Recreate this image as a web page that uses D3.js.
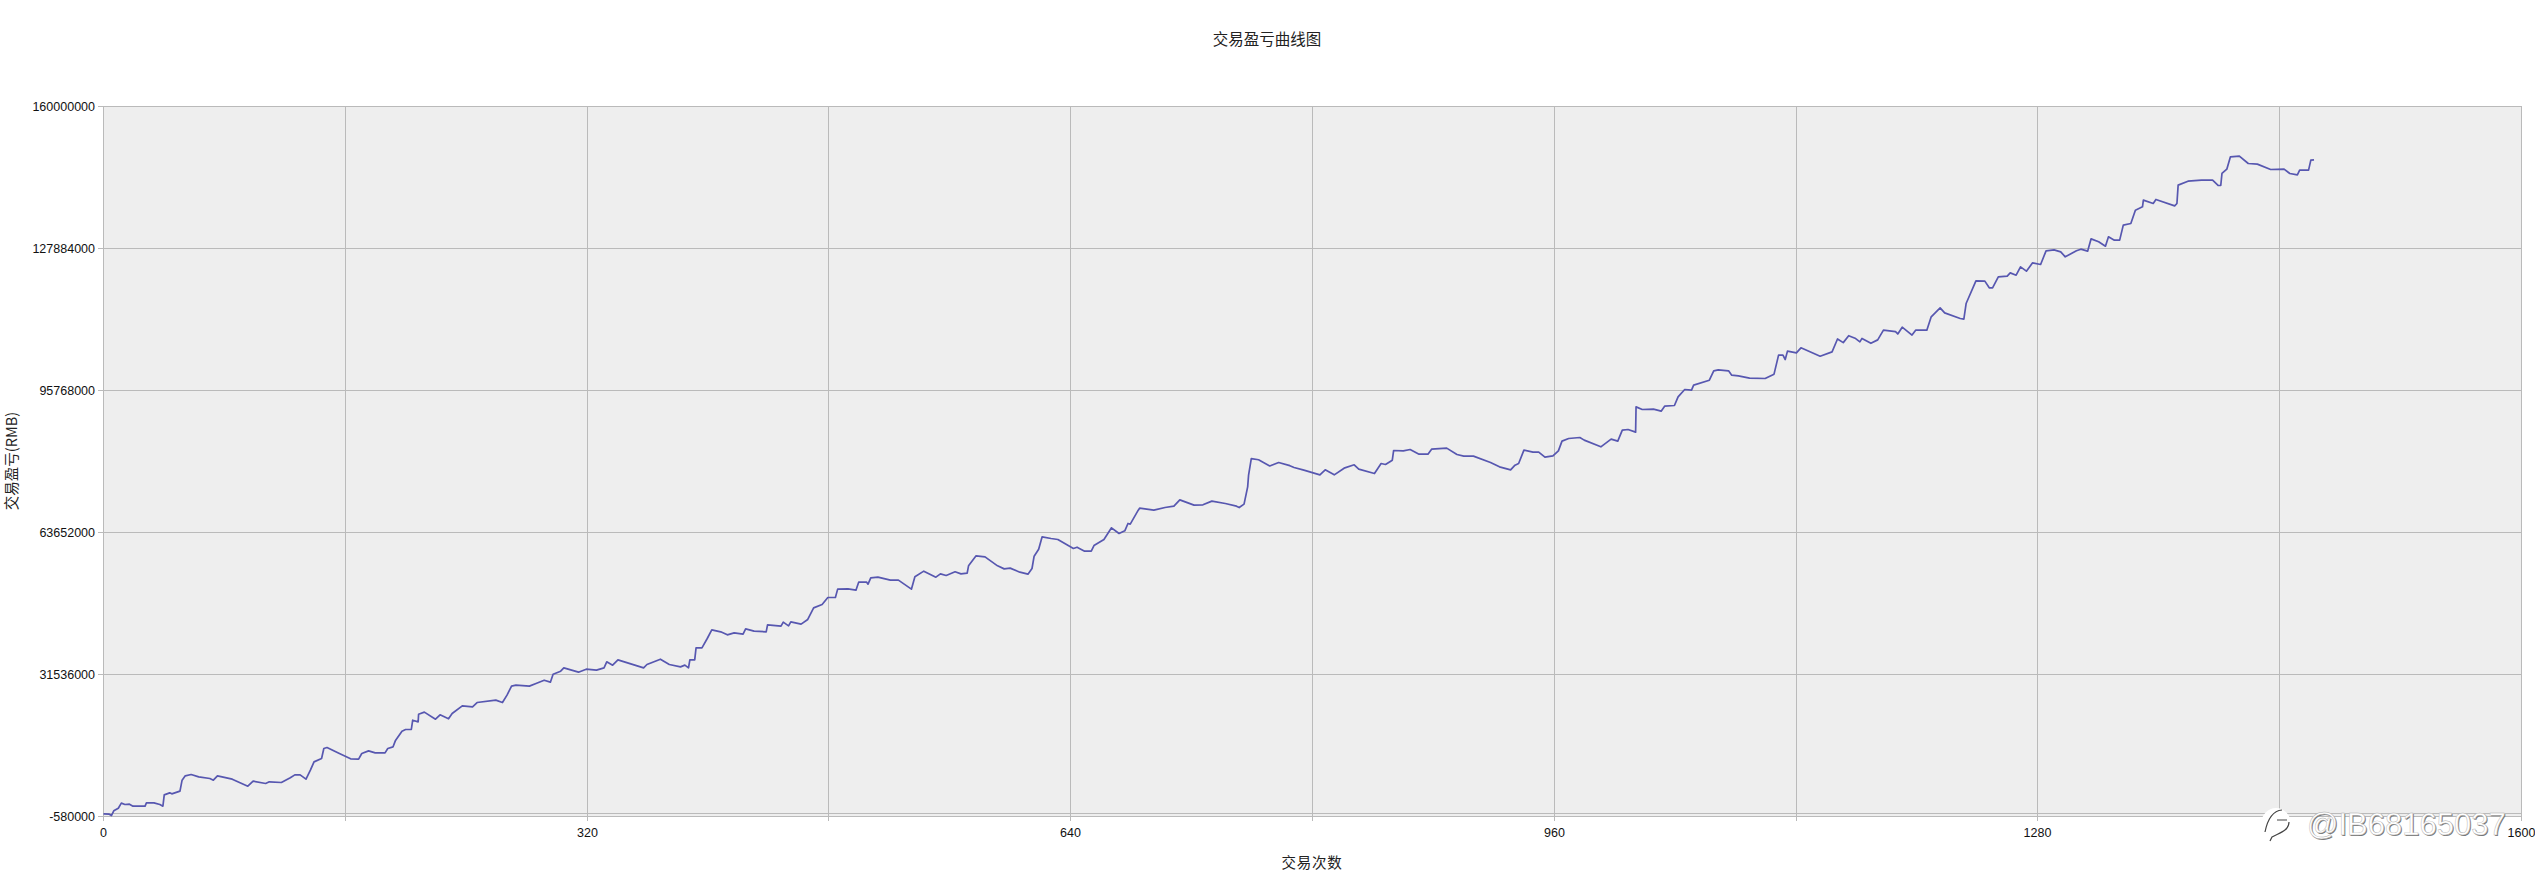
<!DOCTYPE html>
<html>
<head>
<meta charset="utf-8">
<script src="https://d3js.org/d3.v7.min.js"></script>
<style>
    body { margin: 0; background: #fff; }
    svg { display: block; }
    .tick text { font-family: "Liberation Sans", Arial, sans-serif; font-size: 12.5px; fill: #111; }
    .cap { font-family: "Noto Sans CJK SC", sans-serif; font-size: 14.5px; fill: #222; text-anchor: middle; }
</style>
</head>
<body>
<div class="chart"></div>
<script>
// pnl in million RMB
const trades = [0,3.8,5.3,6.8,9.8,11.8,14.2,17.2,19.5,27.5,28.4,33.4,37.3,39.3,40.2,43.8,45.2,50.6,52,54.1,58,63,70.4,72.7,75.4,85.2,95.5,99,107.3,109.7,117.7,123.6,126.6,130.1,134,136.9,139.3,144.3,145.8,147.9,156.1,163.5,168.8,170.9,175.4,179.8,186.3,188.1,191.6,193.1,197.5,199.9,203.7,204.6,208.2,208.5,212.3,219.7,222.7,228.3,230.7,237.4,244.2,247.2,259.6,264,267,270,272.9,281.8,286.2,291.6,295.7,297.5,302.5,304.6,314.3,319.4,326.2,331.2,333,336.9,340.4,357.4,359.6,368.5,374.4,381.8,384.7,387.1,388,391.2,392.1,396,399.5,402.5,408.4,412.8,417.3,423.2,424.9,430.5,438.5,439.4,448.3,449.8,453.3,454.8,461.6,466,469.9,475.5,479.3,484.3,485.8,492.6,497.9,499.7,505,505.9,507.7,512.4,520.7,526,534.6,536.9,542.8,550.8,553.8,557.6,563.5,567.4,571.5,572.4,577.4,583.3,591.6,596,599.9,606.4,611.7,614.4,615.8,618.8,621.1,627,631.5,641.8,644.2,649.2,653.6,655.4,662,667,672,675.8,677.9,679.4,684.7,685.6,695,702.4,708.3,712.2,721.6,727.5,733.4,742.3,749.7,751.5,754.7,757.1,757.7,759.5,764.3,771.7,777.6,785,787.8,794.3,804.9,808.4,814.4,820.9,827.6,830.6,841,845.4,848.3,852.8,853.7,860.1,864.6,870.5,876.4,878.8,888.8,895.6,900.1,906.5,917.8,923.7,931.1,934,936.4,939.9,945.9,949.7,953.8,959.1,962.7,965.1,969.5,976.9,979.8,990.8,997.6,1002,1005,1008.8,1013.8,1014.1,1018.2,1025.6,1030.7,1033,1039.5,1041.9,1046.3,1050.8,1052.2,1062.6,1065.5,1068.5,1075.3,1077.4,1081.8,1089.2,1099.5,1105.4,1108.4,1111.3,1112.8,1114.3,1120.2,1123.2,1135.9,1143.8,1147.4,1151.2,1154.8,1159,1162.2,1163.6,1169.5,1174,1177.8,1185.8,1187.3,1190.2,1196.7,1199.1,1206.5,1209.4,1215.3,1218.3,1228.6,1231,1232.5,1239,1244.9,1247.8,1250,1253.8,1259.7,1261.7,1265.6,1268.5,1272.4,1276.5,1281.8,1285.4,1290.7,1295.1,1298.1,1305.5,1308.4,1312.9,1315.2,1320.2,1324.7,1326.7,1330.6,1334.1,1336.5,1341.5,1344.5,1349.2,1349.8,1356.3,1358.1,1370.5,1372,1372.8,1379.3,1388.2,1395.6,1399.4,1401,1401.8,1405,1407.4,1413.3,1419.2,1425.2,1434,1442.9,1446.7,1451.7,1453.2,1459.1,1460.6,1462.7];
const pnlMillions = [0.02,-0.05,-0.35,0.7,1.3,2.44,2.13,2.21,1.76,1.76,2.51,2.51,2.13,1.76,4.32,4.77,4.55,5.15,7.64,8.62,8.92,8.39,8.01,7.64,8.62,7.86,6.28,7.41,6.88,7.26,7.11,8.17,8.84,8.84,7.86,9.9,11.78,12.54,14.8,15.03,13.67,12.46,12.39,13.67,14.27,13.82,13.82,14.8,15.18,16.53,18.72,19.1,19.1,21.2,20.83,22.56,23.02,21.43,22.41,21.51,22.72,24.45,24.22,25.2,25.73,25.2,26.86,28.9,29.12,28.9,29.5,30.25,29.8,31.6,32.29,33.04,32.06,32.74,32.52,33.04,34.4,33.65,34.85,33.04,33.8,35,33.8,33.27,33.65,33.04,34.85,34.85,37.57,37.57,39.68,41.64,41.19,40.51,40.96,40.66,41.86,41.34,41.19,42.77,42.47,43.37,42.54,43.45,42.92,43.98,46.61,47.37,48.95,48.95,50.84,50.91,50.61,52.42,52.42,51.97,53.4,53.55,52.87,52.87,50.84,53.63,54.91,53.55,54.3,53.93,54.76,54.3,54.45,56.11,58.38,58.15,56.11,55.43,55.59,54.68,54.23,55.51,58.3,59.88,62.67,62.3,62.07,60.03,60.33,59.43,59.43,60.71,62.07,64.71,63.43,64.03,65.69,65.54,68.7,69.15,68.7,69.31,69.61,71.04,69.84,69.91,70.74,70.21,69.61,69.3,70.06,73.98,76.62,80.35,80.1,78.7,79.48,78.77,78.35,77.75,76.69,77.82,76.69,78.2,78.96,77.98,76.99,79.26,79.03,80.01,82.2,82.12,82.42,81.37,81.37,82.5,82.73,81.29,80.92,80.92,79.48,78.5,77.83,78.88,79.26,82.27,81.82,81.82,80.69,80.99,82.12,84.31,84.91,85.14,84.54,83.03,84.76,84.31,86.8,86.95,86.35,92.07,91.47,91.55,91.1,92.22,92.38,94.34,95.99,95.84,96.97,98.1,100.22,100.44,100.22,99.24,99.09,98.56,98.48,99.46,103.76,103.76,102.78,104.67,104.29,105.42,103.53,104.51,107.42,106.6,108.17,107.6,106.77,107.55,106.45,107.22,109.41,109.1,108.55,110.09,108.3,109.41,109.41,112.43,114.46,113.33,112.05,111.9,115.44,120.57,120.5,118.99,118.99,121.48,121.63,122.38,121.85,123.74,122.76,124.64,124.27,127.36,127.58,127.13,126,127.36,127.73,127.28,130.07,129.4,128.41,130.52,129.77,129.77,133.16,133.54,136.55,137.31,138.82,138.06,138.97,137.53,138.06,142.21,143.11,143.34,143.34,142.13,142.13,144.85,145.83,148.62,148.77,147.11,146.96,145.75,145.83,144.85,144.55,145.6,145.6,147.87,147.94];
const xTicks = [0,160,320,480,640,800,960,1120,1280,1440,1600];
const xLabelled = [0,320,640,960,1280,1600];
const yTicks = [-580000,31536000,63652000,95768000,127884000,160000000];
const zeroLine = [0];
const titleText = "交易盈亏曲线图";
const xTitle = "交易次数";
const yTitle = "交易盈亏(RMB)";
const watermark = "@IB68165037";

function init() {
    const w = 2535;
    const h = 873;
    const left = 103, right = 2521, top = 106, bottom = 816;
    const gridColor = "#bababa";

    const svg = d3.select(".chart").append("svg")
        .attr("width", w)
        .attr("height", h);

    const x = d3.scaleLinear().domain([0, 1600]).range([left, right]);
    const y = d3.scaleLinear().domain([-580000, 160000000]).range([bottom, top]);
    // round tick positions so the grid stays sharp
    const xTickScale = x.copy().interpolate(d3.interpolateRound);
    const yTickScale = y.copy().interpolate(d3.interpolateRound);

    svg.append("rect")
        .attr("x", left + 0.5)
        .attr("y", top + 0.5)
        .attr("width", right - left)
        .attr("height", bottom - top)
        .attr("fill", "#eeeeee")
        .attr("stroke", gridColor);

    const xAxisGrid = d3.axisBottom(xTickScale)
        .tickValues(xTicks)
        .tickSize(-(bottom - top))
        .tickFormat("");
    const gx = svg.append("g")
        .attr("transform", `translate(0,${bottom})`)
        .call(xAxisGrid);
    gx.select(".domain").remove();
    gx.selectAll("line").attr("stroke", gridColor);

    const xAxis = d3.axisBottom(xTickScale)
        .tickValues(xTicks)
        .tickSize(5)
        .tickPadding(7)
        .tickFormat(d => xLabelled.includes(d) ? d : "");
    const gx2 = svg.append("g")
        .attr("transform", `translate(0,${bottom})`)
        .call(xAxis);
    gx2.select(".domain").remove();
    gx2.selectAll("line").attr("stroke", gridColor);

    const yAxisGrid = d3.axisLeft(yTickScale)
        .tickValues(yTicks)
        .tickSize(-(right - left))
        .tickFormat("");
    const gy = svg.append("g")
        .attr("transform", `translate(${left},0)`)
        .call(yAxisGrid);
    gy.select(".domain").remove();
    gy.selectAll("line").attr("stroke", gridColor);

    const yAxis = d3.axisLeft(yTickScale)
        .tickValues(yTicks)
        .tickSize(5)
        .tickPadding(3)
        .tickFormat(d => d);
    const gy2 = svg.append("g")
        .attr("transform", `translate(${left},0)`)
        .call(yAxis);
    gy2.select(".domain").remove();
    gy2.selectAll("line").attr("stroke", gridColor);

    // the y=0 line just above the bottom edge
    svg.selectAll(".zero").data(zeroLine).enter()
        .append("line")
        .attr("class", "zero")
        .attr("x1", left)
        .attr("x2", right)
        .attr("y1", d => yTickScale(d) + 0.5)
        .attr("y2", d => yTickScale(d) + 0.5)
        .attr("stroke", gridColor);

    const points = trades.map((t, i) => [t, pnlMillions[i] * 1e6]);
    const line = d3.line().x(d => x(d[0]) + 0.5).y(d => y(d[1]) + 0.5);

    svg.append("path")
        .datum(points)
        .attr("d", line)
        .attr("fill", "none")
        .attr("stroke", "#5757b0")
        .attr("stroke-width", 1.7)
        .attr("stroke-linejoin", "round");

    svg.append("text").attr("class", "cap")
        .attr("x", 1267).attr("y", 45)
        .style("font-size", "15.5px")
        .text(titleText);

    svg.append("text").attr("class", "cap")
        .attr("x", (left + right) / 2).attr("y", 868)
        .style("letter-spacing", "0.8px")
        .text(xTitle);

    svg.append("text").attr("class", "cap")
        .attr("transform", `translate(17,${(top + bottom) / 2}) rotate(-90)`)
        .text(yTitle);

    // weibo style watermark, white letters with a thin grey edge
    const mark = svg.append("g");
    mark.append("ellipse")
        .attr("cx", 2276).attr("cy", 824)
        .attr("rx", 15).attr("ry", 16)
        .attr("fill", "#fff");
    mark.append("path")
        .attr("d", "M2265 832 C2267 822 2271 811 2282 810 M2277 820 L2287 820 M2289 822 C2289 831 2279 833 2272 837 L2270 841")
        .attr("fill", "none")
        .attr("stroke", "#444")
        .attr("stroke-width", 1.2);
    mark.append("text")
        .attr("x", 2308).attr("y", 836)
        .attr("font-family", "'Liberation Sans', Arial, sans-serif")
        .attr("font-size", "31px")
        .attr("fill", "#777")
        .text(watermark);
    mark.append("text")
        .attr("x", 2307).attr("y", 835)
        .attr("font-family", "'Liberation Sans', Arial, sans-serif")
        .attr("font-size", "31px")
        .attr("fill", "#fff")
        .attr("stroke", "#aaa")
        .attr("stroke-width", 0.4)
        .text(watermark);
}

window.onload = init;
</script>
</body>
</html>
